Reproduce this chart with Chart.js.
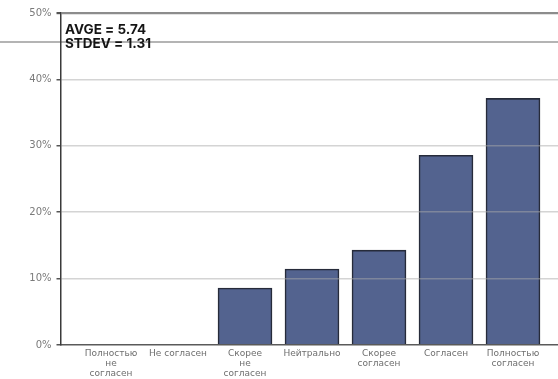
<!DOCTYPE html>
<html lang="ru">
<head>
<meta charset="utf-8">
<title>Распределение ответов</title>
<script src="https://cdn.jsdelivr.net/npm/chart.js@4.4.1/dist/chart.umd.min.js"></script>
<style>
    html, body { margin: 0; padding: 0; background: #fff; overflow: hidden; }
    #wrap { position: relative; width: 570px; height: 379px; }
    #rule { position: absolute; left: 0; top: 41px; width: 570px; height: 0; border-top: 2px solid #b4b4b4; }
    #grafico { position: relative; }
</style>
</head>
<body>
<div id="wrap">
    <div id="rule"></div>
    <canvas id="grafico"></canvas>
</div>
<script>
// Варианты ответа (шкала 1..7)
const categorias = [
    ['Полностью', 'не', 'согласен'],
    ['Не согласен'],
    ['Скорее', 'не', 'согласен'],
    ['Нейтрально'],
    ['Скорее', 'согласен'],
    ['Согласен'],
    ['Полностью', 'согласен']
];

// Доля ответов, %
const valores = [0, 0, 8.57, 11.43, 14.29, 28.57, 37.14];

// Деления оси Y, %
const ticksY = [0, 10, 20, 30, 40, 50];

// Итоговая статистика
const estatisticas = ['AVGE = 5.74', 'STDEV = 1.31'];

// Подпись со статистикой в левом верхнем углу
const caixaEstatisticas = {
    id: 'caixaEstatisticas',
    afterDraw(chart) {
        const { ctx, chartArea } = chart;
        ctx.save();
        ctx.fillStyle = '#151515';
        ctx.font = 'bold 13.5px Inter, "DejaVu Sans", sans-serif';
        ctx.textBaseline = 'middle';
        estatisticas.forEach((linha, i) => {
            ctx.fillText(linha, chartArea.left + 4.5, 29.5 + i * 14);
        });
        ctx.restore();
    }
};

const pontos = valores.map((v, i) => ({ x: i, y: v }));

new Chart(document.getElementById('grafico'), {
    type: 'bar',
    data: {
        datasets: [{
            data: pontos,
            backgroundColor: '#53638f',
            borderColor: '#262b3a',
            borderWidth: 1.6,
            barThickness: 54
        }]
    },
    options: {
        responsive: true,
        maintainAspectRatio: false,
        animation: false,
        layout: { padding: { top: 13, left: 0, right: 0, bottom: 0 } },
        plugins: {
            legend: { display: false },
            tooltip: { enabled: false }
        },
        scales: {
            x: {
                type: 'linear',
                min: -0.754,
                max: 6.851,
                bounds: 'data',
                offset: false,
                afterFit: (scale) => { scale.height = 34; },
                afterBuildTicks: (scale) => { scale.ticks = categorias.map((c, i) => ({ value: i })); },
                grid: { display: false, drawTicks: false, offset: false },
                border: { display: true, color: '#5a5a5a', width: 1.5, z: 1 },
                ticks: {
                    autoSkip: false,
                    maxRotation: 0,
                    padding: 4,
                    color: '#6e6e6e',
                    font: { family: '"DejaVu Sans", sans-serif', size: 9, lineHeight: 1.1 },
                    callback: (v) => categorias[v] || ''
                }
            },
            y: {
                min: 0,
                max: 50,
                afterFit: (scale) => { scale.width = 60.5; },
                afterBuildTicks: (scale) => { scale.ticks = ticksY.map(v => ({ value: v })); },
                grid: {
                    z: 1,
                    tickLength: 4,
                    tickColor: '#555',
                    color: (c) => c.tick.value === 50 ? '#8c8c8c' : (c.tick.value === 0 ? 'rgba(0,0,0,0)' : 'rgba(170,170,170,0.5)'),
                    lineWidth: (c) => c.tick.value === 50 ? 2.2 : 1.5
                },
                border: { display: true, color: '#3a3a3a', width: 1.5, z: 1 },
                ticks: {
                    padding: 5,
                    color: '#7a7a7a',
                    font: { family: '"DejaVu Sans", sans-serif', size: 10 },
                    callback: (v) => v + '%'
                }
            }
        }
    },
    plugins: [caixaEstatisticas]
});
</script>
</body>
</html>
